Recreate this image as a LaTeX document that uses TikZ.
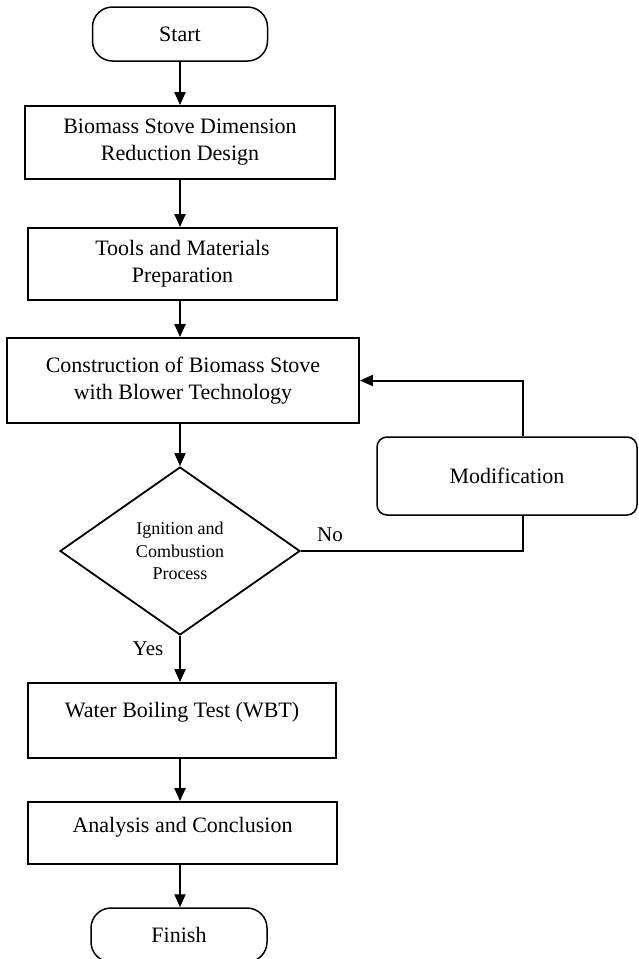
\documentclass[tikz,border=0pt]{standalone}
\usepackage{fontspec}
\setmainfont{Liberation Serif}
\usetikzlibrary{shapes.geometric,arrows.meta}

\begin{document}
\begin{tikzpicture}[x=1pt,y=-1pt,
			font=\fontsize{22}{27}\selectfont,
			box/.style={draw,align=center,line width=1.8pt,inner sep=0pt},
			terminal/.style={box,rounded corners=20pt,line width=1.5pt},
			decision/.style={draw,diamond,aspect=1.43,align=center,line width=1.8pt,inner sep=0pt,
				minimum width=240pt,minimum height=168pt,font=\fontsize{18}{22.5}\selectfont},
			tag/.style={font=\fontsize{21}{25}\selectfont},
			arr/.style={-{Triangle[width=11pt,length=13pt]},line width=2pt}]
			\useasboundingbox (0,0) rectangle (638,959);
			\node[terminal,minimum width=175pt,minimum height=54pt] (start) at (180,34) {Start};
			\node[box,minimum width=310pt,minimum height=73pt] (design) at (180,142.5) {Biomass Stove Dimension\\Reduction Design};
			\node[box,minimum width=309pt,minimum height=72pt] (prep) at (182.5,264) {Tools and Materials\\Preparation};
			\node[box,minimum width=352pt,minimum height=85pt] (build) at (183,380.5) {Construction of Biomass Stove\\with Blower Technology};
			\node[decision] (check) at (180,551) {Ignition and\\Combustion\\Process};
			\node[box,rounded corners=10pt,line width=1.5pt,minimum width=260pt,minimum height=78pt] (modif) at (507,476) {Modification};
			\node[box,minimum width=308pt,minimum height=75pt,text depth=21pt] (wbt) at (182,720.5) {Water Boiling Test (WBT)};
			\node[box,minimum width=309pt,minimum height=62pt,text depth=17pt] (concl) at (182.5,833) {Analysis and Conclusion};
			\node[terminal,minimum width=176pt,minimum height=54pt] (finish) at (179,935) {Finish};
			\node[tag] (no) at (330,535) {No};
			\node[tag] (yes) at (148,649) {Yes};
			
			\draw[arr] (start) -- (design);
			\draw[arr] (design.south) -- (design.south |- prep.north);
			\draw[arr] (design.south |- prep.south) -- (design.south |- build.north);
			\draw[arr] (design.south |- build.south) -- (check);
			\draw[arr] (check) -- (check |- wbt.north);
			\draw[arr] (check |- wbt.south) -- (check |- concl.north);
			\draw[arr] (check |- concl.south) -- (check |- finish.north);
			\draw[line width=2pt] (check.east) -| ([xshift=16pt]modif.south);
			\draw[arr] ([xshift=16pt]modif.north) |- (build.east);
\end{tikzpicture}
\end{document}
